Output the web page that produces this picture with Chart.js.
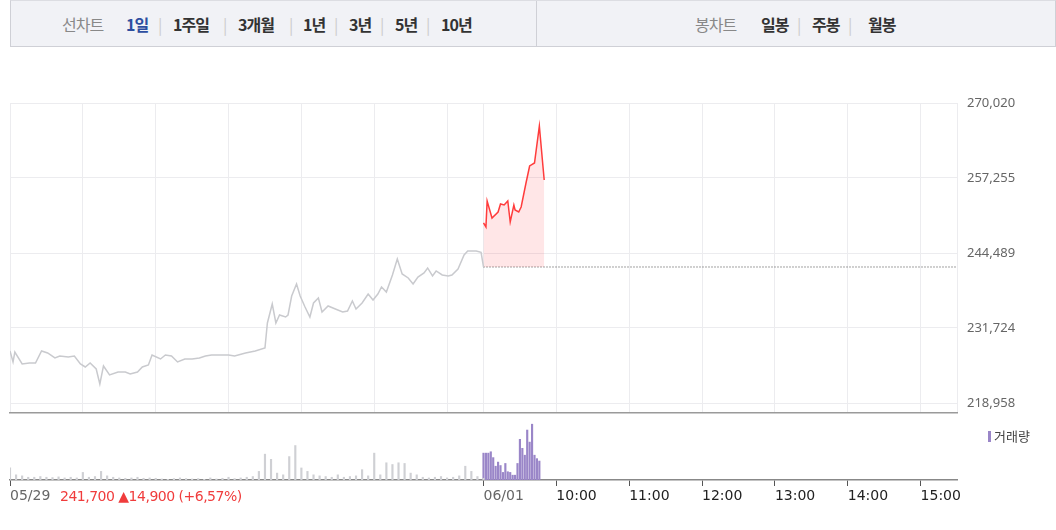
<!DOCTYPE html>
<html><head><meta charset="utf-8">
<script src="https://cdn.jsdelivr.net/npm/chart.js@4"></script>
<style>
body{margin:0;width:1056px;height:530px;overflow:hidden;background:#fff;font-family:"Noto Sans CJK KR","Noto Sans",sans-serif;}
#bar{position:absolute;left:10px;top:0;width:1044px;height:45px;background:#f1f2f6;border:1px solid #cfd0d6;border-top:1px solid #dcdde2;}
#bar span{position:absolute;top:11px;font-size:16px;font-weight:bold;color:#333;letter-spacing:-1px}
#bar .g{color:#888;font-weight:normal}
#bar .s{color:#ccc;font-weight:normal}
#div{position:absolute;left:525px;top:0;width:1px;height:45px;background:#cfd0d6}
canvas{position:absolute;left:0}
#info{position:absolute;left:60px;top:488px;font-size:14px;color:#f03c3c;font-family:"DejaVu Sans",sans-serif;letter-spacing:-0.5px}
#leg{position:absolute;left:988px;top:426px;font-size:13px;color:#444}
#leg i{display:inline-block;width:3px;height:11px;background:#9a86c8;margin-right:3px;vertical-align:-1px}
</style></head><body>
<div id="bar"><div id="div"></div>
<span class="g" style="left:51px">선차트</span>
<span style="left:115px;color:#2d4ea0">1일</span><span class="s" style="left:147px">|</span>
<span style="left:162px">1주일</span><span class="s" style="left:212px">|</span>
<span style="left:227px">3개월</span><span class="s" style="left:278px">|</span>
<span style="left:292px">1년</span><span class="s" style="left:323px">|</span>
<span style="left:338px">3년</span><span class="s" style="left:369px">|</span>
<span style="left:384px">5년</span><span class="s" style="left:415px">|</span>
<span style="left:430px">10년</span>
<span class="g" style="left:684px">봉차트</span>
<span style="left:750px">일봉</span><span class="s" style="left:786px">|</span>
<span style="left:801px">주봉</span><span class="s" style="left:837px">|</span>
<span style="left:857px">월봉</span>
</div>
<canvas id="c1" width="1056" height="416" style="top:0"></canvas>
<canvas id="c2" width="1056" height="116" style="top:414px"></canvas>
<div id="info">241,700 ▲14,900 (+6,57%)</div>
<div id="leg"><i></i>거래량</div>
<script>
const priceTicks=[218958,231724,244489,257255,270020];
const prevClose=242107;
const prevTimes=[0,2.5,4,10,16,21,26,31,37,41,48,53,58,62,66,71,74,77,82,89,95,99,105,109,114,117,124,128,133,138,144,150,156,161,166,173,180,185,194,202,210,212,216,219,222,227,229,232,236,239,243,247,250,254,257,262,268,274,278,282,285,290,295,299,303,306,310,315,319,323,328,332,336,341,344,348,351,356,361,364,369,374,377,384,388,390];
const prevPrices=[227810,225940,227640,225600,225770,225770,227810,227470,226620,226960,226790,226960,225600,225090,225770,224750,222190,225260,223730,224240,224240,223900,224240,225090,225430,227130,226450,227130,226960,225940,226450,226450,226620,226960,227130,227130,227130,226960,227470,227810,228320,232580,235810,232580,233940,233600,233940,237170,239210,237170,235300,233600,235980,236830,234450,235470,234960,234450,234600,236320,234960,235980,237510,236490,237510,238700,237850,240750,243470,240920,240240,239210,240400,241090,241940,240580,241430,240750,240580,240750,241770,244150,244830,244830,244600,242107];
const todayTimes=[390,392,393,397,402,404,407,410,412,415,416,419,421,425,428,432,436,438.5,440];
const todayPrices=[249600,248920,253340,250450,251470,252830,252660,253340,249770,252660,251810,251470,252320,256400,259300,259810,266100,260320,256910];
const prevVol=[35,15,12,8,8,10,8,7,9,6,8,6,22,8,10,25,12,8,6,5,6,8,5,6,5,3,2,4,6,4,3,4,2,6,3,5,8,4,6,8,10,25,75,60,20,15,68,100,35,25,15,12,10,8,15,8,10,12,30,12,78,15,50,45,50,48,20,15,8,6,8,10,6,8,12,40,25,10,5];
const prevVolStep=5;
const todayVolTimes=[390,392,394,396,398,400,402,404,406,408,410,412,414,416,418,420,422,424,426,428,430,432,434,436];
const todayVol=[78,78,78,82,65,40,52,42,22,48,24,22,14,14,48,118,92,72,145,110,162,72,62,55];
const hourTicks=[0,60,120,180,240,300,360,390,450,510,570,630,690,750,780];
const labelTicks=[0,390,450,510,570,630,690,750];
const tickText={0:'05/29',390:'06/01',450:'10:00',510:'11:00',570:'12:00',630:'13:00',690:'14:00',750:'15:00'};

const xy=(t,v)=>t.map((x,i)=>({x,y:v[i]}));
const font={family:'"Noto Sans","DejaVu Sans",sans-serif',size:13};
const noPad=s=>{s.paddingLeft=0;s.paddingRight=0;s.paddingTop=0;s.paddingBottom=0;};
new Chart(document.getElementById('c1'),{
 type:'line',
 data:{datasets:[
  {data:xy(prevTimes,prevPrices),borderColor:'#c9cace',borderWidth:1.5,pointRadius:0,tension:0},
  {data:xy(todayTimes,todayPrices),borderColor:'#ff3c3c',borderWidth:1.5,pointRadius:0,tension:0,fill:{value:prevClose},backgroundColor:'rgba(255,60,70,0.13)'},
  {data:[{x:390,y:prevClose},{x:780,y:prevClose}],borderColor:'#444',borderWidth:1,borderDash:[1,2],pointRadius:0}
 ]},
 options:{animation:false,responsive:false,plugins:{legend:{display:false},tooltip:{enabled:false}},
  layout:{padding:{left:10,top:103,right:0,bottom:3}},
  scales:{
   x:{type:'linear',min:0,max:780,afterBuildTicks:s=>{s.ticks=hourTicks.map(v=>({value:v}));},
      afterFit:s=>{s.height=0;noPad(s);},
      ticks:{display:false},grid:{color:'#ececef',drawTicks:false},border:{color:'#9a9a9a',width:1.5}},
   y:{position:'right',min:217256,max:270020,afterBuildTicks:s=>{s.ticks=priceTicks.map(v=>({value:v}));},
      afterFit:s=>{s.width=99;noPad(s);},
      ticks:{padding:10,color:'#666',font,callback:v=>v.toLocaleString('en-US')},
      grid:{color:'#ececef',drawTicks:false},border:{display:false}}
  }}
});
new Chart(document.getElementById('c2'),{
 type:'bar',
 data:{datasets:[
  {data:prevVol.map((v,i)=>({x:i*prevVolStep,y:v})),backgroundColor:'#cfd0d4',barThickness:1.5,grouped:false},
  {data:xy(todayVolTimes,todayVol),backgroundColor:'#9a86c8',barThickness:1.5,grouped:false}
 ]},
 options:{animation:false,responsive:false,plugins:{legend:{display:false},tooltip:{enabled:false}},
  layout:{padding:{left:10,top:4,right:99,bottom:24}},
  scales:{
   x:{type:'linear',offset:false,min:0,max:780,afterBuildTicks:s=>{s.ticks=labelTicks.map(v=>({value:v}));},
      afterFit:s=>{s.height=26;noPad(s);},
      ticks:{align:'start',padding:2,maxRotation:0,autoSkip:false,font:{family:'"DejaVu Sans",sans-serif',size:14},
        color:c=>c.tick&&c.tick.value>=450?'#222':'#666',callback:v=>tickText[v]},
      grid:{offset:false,drawOnChartArea:false,tickLength:6,color:'#555'},border:{color:'#888',width:1.5}},
   y:{display:false,min:0,max:180}
  }}
});
</script></body></html>
